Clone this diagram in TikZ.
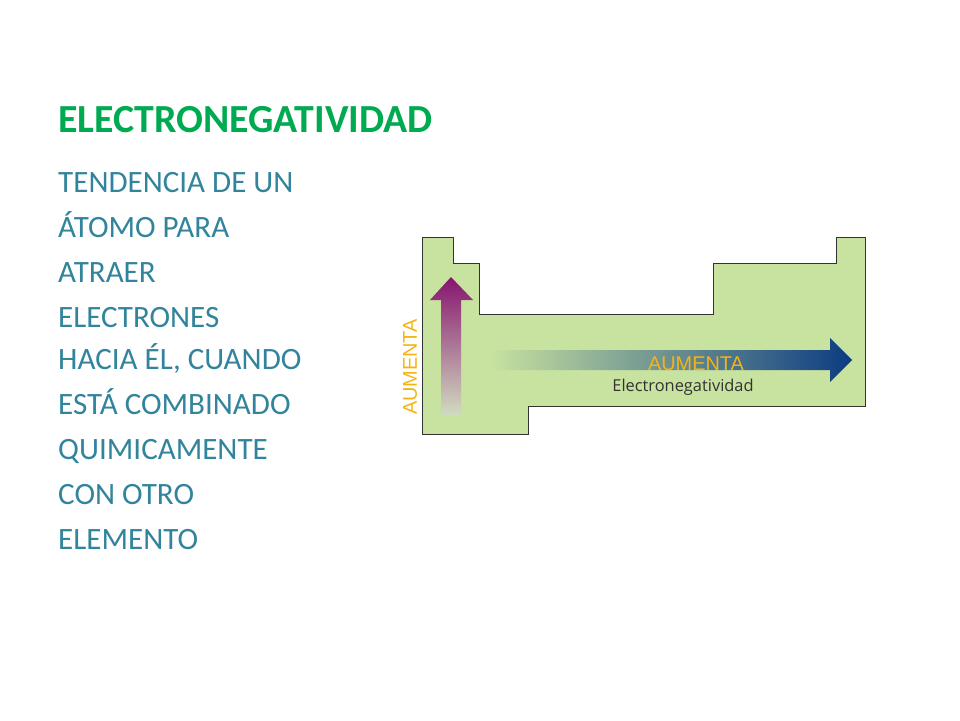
\documentclass[tikz,border=0pt]{standalone}
\usepackage{fontspec}
\setmainfont{Carlito}
\newfontfamily\arialfont{Liberation Sans}
\newfontfamily\labelfont{Open Sans}
\usetikzlibrary{positioning}
\definecolor{titlegreen}{RGB}{0,170,80}
\definecolor{bodyteal}{RGB}{49,132,155}
\definecolor{tablegreen}{RGB}{200,226,160}
\definecolor{arrowblue}{RGB}{12,60,130}
\definecolor{arrowpurple}{RGB}{135,20,110}
\definecolor{labelorange}{RGB}{245,180,20}
\begin{document}
\begin{tikzpicture}[x=0.03cm,y=-0.03cm]
\tikzstyle{line}=[font=\fontsize{26.5}{38}\selectfont,text=bodyteal,anchor=base west,inner sep=0pt]
\tikzstyle{risetext}=[font=\arialfont\fontsize{17}{20}\selectfont,text=labelorange,inner sep=0pt]
 \useasboundingbox (0,0) rectangle (960,720);
 \node[anchor=base west,inner sep=0pt,text=titlegreen,font=\bfseries\fontsize{34}{40}\selectfont] (title) at (58,132) {ELECTRONEGATIVIDAD};
 \node[line] (l1) at (58,192) {TENDENCIA DE UN};
 \node[line] (l2) at (58,237) {ÁTOMO PARA};
 \node[line] (l3) at (58,282) {ATRAER};
 \node[line] (l4) at (58,327) {ELECTRONES};
 \node[line] (l5) at (58,369) {HACIA ÉL, CUANDO};
 \node[line] (l6) at (58,414) {ESTÁ COMBINADO};
 \node[line] (l7) at (58,459) {QUIMICAMENTE};
 \node[line] (l8) at (58,504) {CON OTRO};
 \node[line] (l9) at (58,549) {ELEMENTO};
 % table outline
 \draw[fill=tablegreen,draw=black!80,line width=0.8pt] (422,237) -- (453,237) -- (453,263) -- (479,263) -- (479,314)
   -- (713,314) -- (713,263) -- (836,263) -- (836,237) -- (865,237) -- (865,406) -- (528,406) -- (528,434) -- (422,434) -- cycle;
 % arrows
 \shade[bottom color=tablegreen!70!gray!60,top color=arrowpurple] (441,415) -- (441,300) -- (430,300) -- (451,277) -- (473,300) -- (461,300) -- (461,415) -- cycle;
 \shade[left color=tablegreen,right color=arrowblue] (490,350) -- (830,350) -- (830,338) -- (852,360) -- (830,382) -- (830,370) -- (490,370) -- cycle;
 \node[risetext,rotate=90] (up) at (410,367) {AUMENTA};
 \node[risetext] (right) at (696,364) {AUMENTA};
 \node[font=\labelfont\fontsize{14}{16}\selectfont,text=black!80,inner sep=0pt] (name) at (683,387) {Electronegatividad};
\end{tikzpicture}
\end{document}
